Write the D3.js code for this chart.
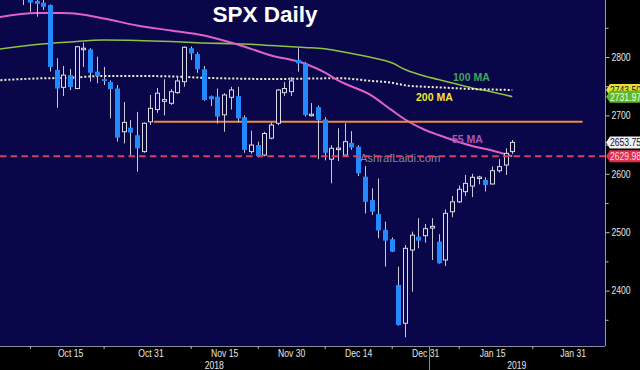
<!DOCTYPE html>
<html><head><meta charset="utf-8">
<script src="https://cdn.jsdelivr.net/npm/d3@7/dist/d3.min.js"></script>
<style>
html,body{margin:0;padding:0;background:#000;}
svg{display:block;}
</style></head><body>
<svg id="chart" width="640" height="370"></svg>
<script>
// ---- data ----
const dates = ["2018-09-28","2018-10-01","2018-10-02","2018-10-03","2018-10-04","2018-10-05","2018-10-08","2018-10-09","2018-10-10","2018-10-11","2018-10-12","2018-10-15","2018-10-16","2018-10-17","2018-10-18","2018-10-19","2018-10-22","2018-10-23","2018-10-24","2018-10-25","2018-10-26","2018-10-29","2018-10-30","2018-10-31","2018-11-01","2018-11-02","2018-11-05","2018-11-06","2018-11-07","2018-11-08","2018-11-09","2018-11-12","2018-11-13","2018-11-14","2018-11-15","2018-11-16","2018-11-19","2018-11-20","2018-11-21","2018-11-23","2018-11-26","2018-11-27","2018-11-28","2018-11-29","2018-11-30","2018-12-03","2018-12-04","2018-12-05","2018-12-06","2018-12-07","2018-12-10","2018-12-11","2018-12-12","2018-12-13","2018-12-14","2018-12-17","2018-12-18","2018-12-19","2018-12-20","2018-12-21","2018-12-24","2018-12-26","2018-12-27","2018-12-28","2018-12-31","2019-01-02","2019-01-03","2019-01-04","2019-01-07","2019-01-08","2019-01-09","2019-01-10","2019-01-11","2019-01-14","2019-01-15","2019-01-16","2019-01-17","2019-01-18"];
const openP  = [2910,2926,2924,2932,2919,2902,2896,2893,2889,2778,2748,2769,2746,2813,2813,2775,2762,2757,2746,2672,2679,2666,2638,2689,2710,2724,2720.7,2739,2757.7,2815,2805,2779,2733,2732,2701,2731,2733,2697,2638,2649.3,2632,2661,2686.5,2739,2740.6,2795,2789,2700,2714,2693,2625,2642,2632,2653,2646.4,2595,2555,2531,2504,2488,2409.6,2344,2469.5,2492.3,2494,2507,2483.7,2452.4,2535,2552,2569.4,2579,2593.5,2589.4,2582.5,2605.3,2615,2638];
const highP  = [2920,2937,2931,2940,2920,2910,2900,2898,2890,2798,2784.6,2779.5,2819,2824.5,2815,2800.5,2783,2760,2752,2723,2692,2706,2688,2735,2747,2762,2745,2766,2818,2818,2808,2784.6,2734,2746,2738,2749,2749,2700,2674,2655,2672,2688,2745,2757,2765.5,2815,2791,2721,2717,2697,2649,2678,2686.5,2673,2649,2613,2575,2592,2518,2491,2441,2478,2501,2524,2514,2524,2496.5,2539,2562,2580,2598,2600,2596.5,2594,2612.6,2625,2643.7,2658];
const lowP   = [2904,2918,2919,2921,2889,2877.6,2869,2880.5,2775,2713,2733,2743.5,2745,2783,2757.7,2755,2752,2695,2655,2652,2629,2603.6,2636,2683.6,2704.4,2700,2718,2737,2749,2795,2773,2725,2716,2686,2672,2710,2688,2636,2634,2628,2630,2659,2683,2733,2733,2775,2698,2698,2625,2623,2583.7,2622,2629,2641,2596,2532,2529.5,2489.6,2441,2466,2340,2320,2398,2472.4,2482,2452.4,2446,2442,2525.5,2550,2562,2560,2582,2569.7,2582,2602,2598,2634];
const closeP = [2914,2924.6,2923.4,2925.5,2902,2893,2891,2886,2783,2746,2769,2748.6,2817.6,2815,2773,2767.5,2759,2745,2662,2688,2670.5,2643.5,2686.5,2712,2738,2727,2740.6,2759,2816.6,2806,2779,2726.4,2727.6,2698,2735,2743.5,2695,2641,2649.3,2630.5,2669,2683.6,2743.5,2746,2759,2789,2700.7,2702,2692,2636,2643.7,2644,2655,2645,2601,2552,2535,2503,2485.5,2466.6,2341,2472.4,2495,2485.5,2506,2510,2446.7,2532.3,2552,2573.5,2583.6,2594,2594.5,2580.8,2605.3,2612.2,2635,2653.75];

const futureDates = ["2019-01-21","2019-01-22","2019-01-23","2019-01-24","2019-01-25","2019-01-28","2019-01-29","2019-01-30","2019-01-31","2019-02-01","2019-02-04","2019-02-05","2019-02-06","2019-02-07"];

const maDates = ["2018-09-28","2018-10-08","2018-10-15","2018-10-22","2018-10-29","2018-11-05","2018-11-12","2018-11-19","2018-11-27","2018-12-04","2018-12-07","2018-12-11","2018-12-18","2018-12-21","2018-12-26","2018-12-31","2019-01-03","2019-01-10","2019-01-15","2019-01-18"];
const ma55  = [2867.6,2875.3,2875,2866,2854,2845.4,2836.8,2821.4,2802.6,2788.9,2773.5,2759.8,2734,2709,2693,2675,2666.4,2647.6,2640,2629.98];
const ma100 = [2812.8,2821.4,2825.7,2829,2828.3,2826.5,2824,2822.6,2819.7,2816.3,2814,2810.3,2799,2790,2778.6,2767,2761.5,2747,2740,2731.97];
const ma200 = [2760,2763.2,2764.5,2767.5,2767.5,2766.8,2764.4,2763,2762.3,2763,2763.4,2763.7,2759,2756,2751.5,2749,2748,2745.2,2744.3,2743.5];

const yMajorTicks = [2400,2500,2600,2700,2800];
const yMinorTicks = [2350,2450,2550,2650,2750,2850];
const xLabelDates = ["2018-10-15","2018-10-31","2018-11-15","2018-11-30","2018-12-14","2018-12-31","2019-01-15","2019-01-31"];
const xLabelTexts = ["Oct 15","Oct 31","Nov 15","Nov 30","Dec 14","Dec 31","Jan 15","Jan 31"];
const xTickDates = ["2018-10-05","2018-10-22","2018-11-08","2018-11-23","2018-12-07","2018-12-21","2019-01-08","2019-01-23"];
const yearLabels = ["2018","2019"];
const yearStart = "2019-01-02";

const resistanceLevel = 2689;
const resistanceFrom = "2018-10-31", resistanceTo = "2019-02-01";
const supportLevel = 2629.98;

// ---- layout ----
const W = 640, H = 370;
const plotR = 605, plotB = 346;
const BG = "#090649";
const SANS = "'Liberation Sans',Arial,'DejaVu Sans',sans-serif";
const NARROW_SCALE = 0.82;   // mimic a narrow terminal font
const FS = 10.5;

const allDates = dates.concat(futureDates);
const idx = new Map(allDates.map((d,i)=>[d,i]));

const x = d3.scaleLinear().domain([0.537, 90.84]).range([0, plotR]);
const y = d3.scaleLinear().domain([2305.1, 2897.6]).range([plotB, 0]);
const step = x(1) - x(0);

const svg = d3.select("#chart");
svg.append("rect").attr("width",W).attr("height",H).attr("fill","#000");
svg.append("rect").attr("width",plotR).attr("height",plotB).attr("fill",BG);

const defs = svg.append("defs");
defs.append("clipPath").attr("id","plotclip").append("rect").attr("width",plotR).attr("height",plotB);
const g = svg.append("g").attr("clip-path","url(#plotclip)");

// title
g.append("text").attr("x",265).attr("y",22).attr("text-anchor","middle")
  .attr("font-family",SANS).attr("font-weight","bold").attr("font-size",22.5)
  .attr("fill","#ffffff").text("SPX Daily");

// MA lines
const maLine = vals => d3.line()
  .x((d,i)=>x(idx.get(maDates[i])))
  .y((d)=>y(d))
  .curve(d3.curveMonotoneX)(vals);
g.append("path").attr("d",maLine(ma100)).attr("fill","none").attr("stroke","#8fc23e").attr("stroke-width",1.6);
g.append("path").attr("d",maLine(ma200)).attr("fill","none").attr("stroke","#f3efd2").attr("stroke-width",2).attr("stroke-dasharray","2,2");
g.append("path").attr("d",maLine(ma55)).attr("fill","none").attr("stroke","#e062c8").attr("stroke-width",2);

// resistance line
g.append("line")
  .attr("x1",x(idx.get(resistanceFrom))+step/2).attr("x2",x(idx.get(resistanceTo))+step/2)
  .attr("y1",y(resistanceLevel)).attr("y2",y(resistanceLevel))
  .attr("stroke","#f08a3c").attr("stroke-width",2);

// watermark
g.append("text").attr("x",360).attr("y",162).attr("font-family",SANS).attr("font-size",11.2)
  .attr("fill","#a0a0b8").attr("fill-opacity",0.85).text("AshrafLaidi.com");

// candles
const candles = dates.map((d,i)=>({d,i,o:openP[i],h:highP[i],l:lowP[i],c:closeP[i]}));
const cg = g.append("g");
cg.selectAll("line.wick").data(candles).join("line").attr("class","wick")
  .attr("x1",d=>Math.round(x(d.i))+0.5).attr("x2",d=>Math.round(x(d.i))+0.5)
  .attr("y1",d=>y(d.h)).attr("y2",d=>y(d.l))
  .attr("stroke","#c8c8d6").attr("stroke-width",1);
cg.selectAll("rect.body").data(candles).join("rect").attr("class","body")
  .attr("x",d=> d.c>=d.o ? Math.round(x(d.i))-1.5 : Math.round(x(d.i))-2)
  .attr("width",d=> d.c>=d.o ? 4 : 5)
  .attr("y",d=>y(Math.max(d.o,d.c)))
  .attr("height",d=>Math.max(1.5, y(Math.min(d.o,d.c))-y(Math.max(d.o,d.c))))
  .attr("fill",d=> d.c>=d.o ? BG : "#2289ff")
  .attr("stroke",d=> d.c>=d.o ? "#dcdce4" : "none")
  .attr("stroke-width",1);

// support dashed line
g.append("line").attr("x1",0).attr("x2",plotR)
  .attr("y1",y(supportLevel)).attr("y2",y(supportLevel))
  .attr("stroke","#d8405f").attr("stroke-width",2).attr("stroke-dasharray","6.5,4.2");

// MA labels
const lab = (t,xx,yy,col)=>g.append("text").attr("x",xx).attr("y",yy)
  .attr("font-family",SANS).attr("font-weight","bold").attr("font-size",10.5).attr("fill",col).text(t);
lab("100 MA",453,81,"#3ca85a");
lab("200 MA",416,101,"#f2e62e");
lab("55 MA",452,143,"#b055b8");

// right axis
svg.append("line").attr("x1",plotR+0.5).attr("x2",plotR+0.5).attr("y1",0).attr("y2",plotB)
  .attr("stroke","#9a9a9a").attr("stroke-width",1);
const yAxis = d3.axisRight(y).tickValues(yMajorTicks).tickSize(4).tickFormat(d3.format("d"));
const ya = svg.append("g").attr("transform",`translate(${plotR+0.5},0)`).call(yAxis);
ya.select(".domain").remove();
ya.selectAll(".tick line").attr("stroke","#bbbbbb");
ya.selectAll(".tick text").attr("x",0).attr("transform",`translate(6,0) scale(${NARROW_SCALE},1)`)
  .attr("fill","#e6e6e6").attr("font-family",SANS).attr("font-size",FS);
const yMinor = d3.axisRight(y).tickValues(yMinorTicks).tickSize(3).tickFormat("");
const ym = svg.append("g").attr("transform",`translate(${plotR+0.5},0)`).call(yMinor);
ym.select(".domain").remove();
ym.selectAll(".tick line").attr("stroke","#bbbbbb");

// value tags
const tag = (val,bg,fg)=>{
  const cy = y(val);
  const tg = svg.append("g");
  tg.append("path").attr("d",`M${plotR+1},${cy} L${plotR+5},${cy-6} L${W},${cy-6} L${W},${cy+6} L${plotR+5},${cy+6} Z`).attr("fill",bg);
  tg.append("text").attr("transform",`translate(${plotR+5},${cy}) scale(${NARROW_SCALE},1)`).attr("dy","0.36em")
    .attr("font-family",SANS).attr("font-size",FS).attr("fill",fg).text(d3.format(".2f")(val));
};
tag(ma200[ma200.length-1],"#e4df3a","#202000");
tag(ma100[ma100.length-1],"#5db82c","#f2ffe4");
tag(closeP[closeP.length-1],"#f2f2f2","#0c0c40");
tag(ma55[ma55.length-1],"#e0304e","#ffd6de");

// bottom axis
svg.append("line").attr("x1",0).attr("x2",plotR).attr("y1",plotB+0.5).attr("y2",plotB+0.5)
  .attr("stroke","#8a8a9a").attr("stroke-width",1);
const xAxisTicks = d3.axisBottom(x).tickValues(xTickDates.map(d=>idx.get(d))).tickSize(3).tickFormat("");
const xt = svg.append("g").attr("transform",`translate(0,${plotB})`).call(xAxisTicks);
xt.select(".domain").remove();
xt.selectAll(".tick line").attr("stroke","#bbbbbb");
const xAxisLabels = d3.axisBottom(x).tickValues(xLabelDates.map(d=>idx.get(d))).tickSize(0)
  .tickFormat((d,i)=>xLabelTexts[i]);
const xl = svg.append("g").attr("transform",`translate(0,${plotB})`).call(xAxisLabels);
xl.select(".domain").remove();
xl.selectAll(".tick text").attr("y",0).attr("dy",0)
  .attr("transform",`translate(0,11) scale(${NARROW_SCALE},1)`)
  .attr("fill","#e6e6e6").attr("font-family",SANS).attr("font-size",FS);

// year labels & separator
const sepX = (x(idx.get(yearStart)) + x(idx.get(yearStart)-1))/2;
svg.append("line").attr("x1",Math.round(sepX)+0.5).attr("x2",Math.round(sepX)+0.5)
  .attr("y1",plotB).attr("y2",H).attr("stroke","#8a8a8a").attr("stroke-width",1);
[[0,sepX],[sepX,plotR]].forEach((r,i)=>{
  svg.append("text").attr("transform",`translate(${(r[0]+r[1])/2},368.5) scale(${NARROW_SCALE},1)`)
    .attr("text-anchor","middle")
    .attr("font-family",SANS).attr("font-size",FS).attr("fill","#e6e6e6").text(yearLabels[i]);
});
</script>
</body></html>
